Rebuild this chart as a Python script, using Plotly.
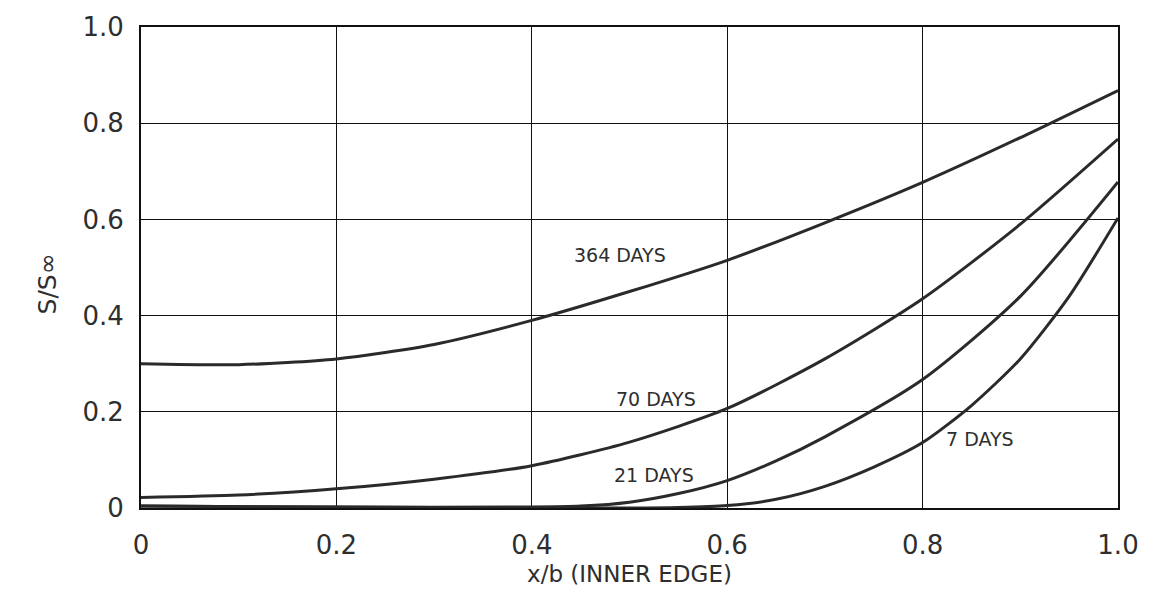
import plotly.graph_objects as go

# ---- data ----
x_364 = [0, 0.1, 0.2, 0.3, 0.4, 0.5, 0.6, 0.7, 0.8, 0.9, 1.0]
y_364 = [0.300, 0.298, 0.310, 0.340, 0.390, 0.450, 0.515, 0.593, 0.677, 0.770, 0.868]

x_70 = [0, 0.1, 0.2, 0.3, 0.4, 0.5, 0.6, 0.7, 0.8, 0.9, 1.0]
y_70 = [0.022, 0.027, 0.040, 0.060, 0.088, 0.137, 0.207, 0.310, 0.435, 0.590, 0.767]

x_21 = [0, 0.2, 0.4, 0.45, 0.5, 0.55, 0.6, 0.65, 0.7, 0.8, 0.9, 1.0]
y_21 = [0.004, 0.002, 0.002, 0.004, 0.012, 0.030, 0.057, 0.098, 0.148, 0.267, 0.440, 0.678]

x_7 = [0, 0.3, 0.5, 0.55, 0.6, 0.65, 0.7, 0.75, 0.8, 0.85, 0.9, 0.95, 1.0]
y_7 = [0.004, 0.001, 0.0, 0.001, 0.005, 0.018, 0.045, 0.085, 0.136, 0.213, 0.310, 0.440, 0.603]

series = [("364 DAYS", x_364, y_364), ("70 DAYS", x_70, y_70),
          ("21 DAYS", x_21, y_21), ("7 DAYS", x_7, y_7)]

labels = ["364 DAYS", "70 DAYS", "21 DAYS", "7 DAYS"]
label_x = [0.49, 0.527, 0.525, 0.859]
label_y = [0.525, 0.226, 0.068, 0.144]

tick_vals = [0, 0.2, 0.4, 0.6, 0.8, 1.0]
tick_text = ["0", "0.2", "0.4", "0.6", "0.8", "1.0"]

FONT = "'DejaVu Sans', sans-serif"
INK = "#2e2e2e"

fig = go.Figure()
for name, xs, ys in series:
    fig.add_trace(go.Scatter(x=xs, y=ys, mode="lines", name=name,
                             line=dict(color="#2a2a2a", width=3, shape="spline", smoothing=0.7),
                             showlegend=False, hoverinfo="skip", cliponaxis=True))

for t, lx, ly in zip(labels, label_x, label_y):
    fig.add_annotation(x=lx, y=ly, text=t, showarrow=False,
                       font=dict(family=FONT, size=19, color=INK))

fig.add_annotation(xref="paper", yref="paper", x=-0.113, y=0.465, text="S/S∞",
                   textangle=-90, showarrow=False,
                   font=dict(family=FONT, size=25, color=INK))

axis_common = dict(range=[0, 1], tickvals=tick_vals, ticktext=tick_text,
                   showgrid=True, gridcolor="#111", gridwidth=1.3,
                   showline=True, linecolor="#111", linewidth=2, mirror=True,
                   zeroline=False, ticks="", tickfont=dict(family=FONT, size=26, color=INK))

fig.update_xaxes(**axis_common, ticklabelstandoff=13,
                 title=dict(text="x/b (INNER EDGE)", font=dict(family=FONT, size=23, color=INK),
                            standoff=7))
fig.update_yaxes(**axis_common, ticklabelstandoff=10)

fig.update_layout(width=1153, height=616,
                  margin=dict(l=141, r=35, t=22, b=108),
                  paper_bgcolor="white", plot_bgcolor="white")

fig.write_html("out.html")
